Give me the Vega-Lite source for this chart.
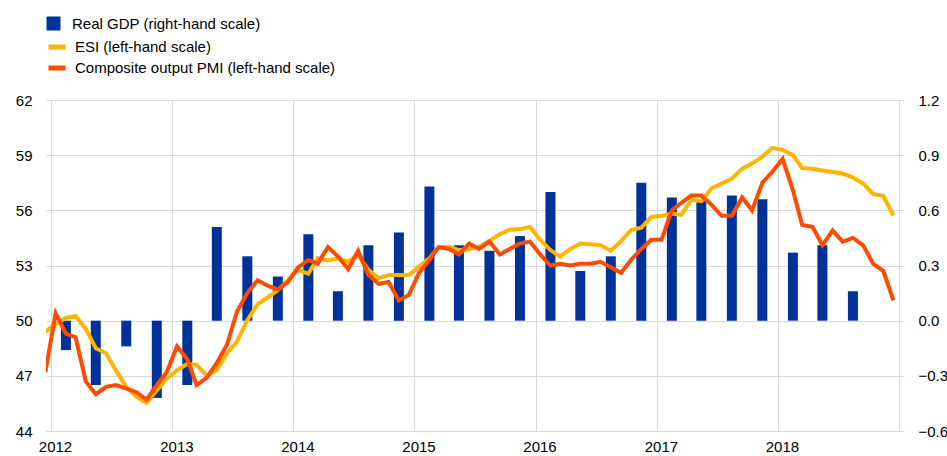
{
  "$schema": "https://vega.github.io/schema/vega-lite/v6.json",
  "width": 858,
  "height": 331,
  "autosize": {"type": "none"},
  "padding": {"left": 46, "top": 100, "right": 43, "bottom": 25},
  "background": "white",
  "config": {
    "font": "Arial, Liberation Sans, sans-serif",
    "view": {"stroke": null},
    "axis": {
      "labelFont": "Arial, Liberation Sans, sans-serif",
      "labelFontSize": 15,
      "labelColor": "#000000",
      "domain": false,
      "ticks": false,
      "gridColor": "#d9d9d9",
      "gridWidth": 1,
      "title": null
    },
    "legend": {
      "labelFont": "Arial, Liberation Sans, sans-serif",
      "labelFontSize": 15,
      "labelColor": "#000000",
      "padding": 0,
      "title": null,
      "labelLimit": 400
    }
  },
  "datasets": {
    "gdp": [
      {"date": "2012-02-15", "gdp": -0.16},
      {"date": "2012-05-15", "gdp": -0.35},
      {"date": "2012-08-15", "gdp": -0.14},
      {"date": "2012-11-15", "gdp": -0.42},
      {"date": "2013-02-15", "gdp": -0.35},
      {"date": "2013-05-15", "gdp": 0.51},
      {"date": "2013-08-15", "gdp": 0.35},
      {"date": "2013-11-15", "gdp": 0.24},
      {"date": "2014-02-15", "gdp": 0.47},
      {"date": "2014-05-15", "gdp": 0.16},
      {"date": "2014-08-15", "gdp": 0.41},
      {"date": "2014-11-15", "gdp": 0.48},
      {"date": "2015-02-15", "gdp": 0.73},
      {"date": "2015-05-15", "gdp": 0.41},
      {"date": "2015-08-15", "gdp": 0.38},
      {"date": "2015-11-15", "gdp": 0.46},
      {"date": "2016-02-15", "gdp": 0.70},
      {"date": "2016-05-15", "gdp": 0.27},
      {"date": "2016-08-15", "gdp": 0.35},
      {"date": "2016-11-15", "gdp": 0.75},
      {"date": "2017-02-15", "gdp": 0.67},
      {"date": "2017-05-15", "gdp": 0.65},
      {"date": "2017-08-15", "gdp": 0.68},
      {"date": "2017-11-15", "gdp": 0.66},
      {"date": "2018-02-15", "gdp": 0.37},
      {"date": "2018-05-15", "gdp": 0.41},
      {"date": "2018-08-15", "gdp": 0.16}
    ],
    "surveys": [
      {"date": "2011-12-15", "esi": 49.4, "pmi": 47.2},
      {"date": "2012-01-15", "esi": 49.8, "pmi": 50.4},
      {"date": "2012-02-15", "esi": 50.15, "pmi": 49.3},
      {"date": "2012-03-15", "esi": 50.26, "pmi": 49.1},
      {"date": "2012-04-15", "esi": 49.55, "pmi": 46.7},
      {"date": "2012-05-15", "esi": 48.5, "pmi": 46.0},
      {"date": "2012-06-15", "esi": 48.23, "pmi": 46.4},
      {"date": "2012-07-15", "esi": 47.28, "pmi": 46.5},
      {"date": "2012-08-15", "esi": 46.4, "pmi": 46.3},
      {"date": "2012-09-15", "esi": 45.85, "pmi": 46.1},
      {"date": "2012-10-15", "esi": 45.53, "pmi": 45.7},
      {"date": "2012-11-15", "esi": 46.2, "pmi": 46.5},
      {"date": "2012-12-15", "esi": 46.85, "pmi": 47.2},
      {"date": "2013-01-15", "esi": 47.3, "pmi": 48.6},
      {"date": "2013-02-15", "esi": 47.65, "pmi": 47.9},
      {"date": "2013-03-15", "esi": 47.6, "pmi": 46.5},
      {"date": "2013-04-15", "esi": 47.0, "pmi": 46.9},
      {"date": "2013-05-15", "esi": 47.32, "pmi": 47.7},
      {"date": "2013-06-15", "esi": 48.23, "pmi": 48.7},
      {"date": "2013-07-15", "esi": 48.87, "pmi": 50.5},
      {"date": "2013-08-15", "esi": 50.03, "pmi": 51.5},
      {"date": "2013-09-15", "esi": 50.9, "pmi": 52.2},
      {"date": "2013-10-15", "esi": 51.26, "pmi": 51.9},
      {"date": "2013-11-15", "esi": 51.65, "pmi": 51.7},
      {"date": "2013-12-15", "esi": 52.2, "pmi": 52.1},
      {"date": "2014-01-15", "esi": 52.76, "pmi": 52.9},
      {"date": "2014-02-15", "esi": 52.55, "pmi": 53.3},
      {"date": "2014-03-15", "esi": 53.39, "pmi": 53.1},
      {"date": "2014-04-15", "esi": 53.27, "pmi": 54.0},
      {"date": "2014-05-15", "esi": 53.39, "pmi": 53.5},
      {"date": "2014-06-15", "esi": 53.21, "pmi": 52.8},
      {"date": "2014-07-15", "esi": 53.57, "pmi": 53.8},
      {"date": "2014-08-15", "esi": 52.76, "pmi": 52.5},
      {"date": "2014-09-15", "esi": 52.3, "pmi": 52.0},
      {"date": "2014-10-15", "esi": 52.48, "pmi": 52.1},
      {"date": "2014-11-15", "esi": 52.48, "pmi": 51.1},
      {"date": "2014-12-15", "esi": 52.48, "pmi": 51.4},
      {"date": "2015-01-15", "esi": 52.94, "pmi": 52.6},
      {"date": "2015-02-15", "esi": 53.39, "pmi": 53.3},
      {"date": "2015-03-15", "esi": 53.99, "pmi": 54.0},
      {"date": "2015-04-15", "esi": 54.02, "pmi": 53.9},
      {"date": "2015-05-15", "esi": 53.84, "pmi": 53.6},
      {"date": "2015-06-15", "esi": 53.88, "pmi": 54.2},
      {"date": "2015-07-15", "esi": 54.02, "pmi": 53.9},
      {"date": "2015-08-15", "esi": 54.34, "pmi": 54.3},
      {"date": "2015-09-15", "esi": 54.7, "pmi": 53.6},
      {"date": "2015-10-15", "esi": 54.95, "pmi": 53.9},
      {"date": "2015-11-15", "esi": 54.98, "pmi": 54.2},
      {"date": "2015-12-15", "esi": 55.1, "pmi": 54.3},
      {"date": "2016-01-15", "esi": 54.39, "pmi": 53.6},
      {"date": "2016-02-15", "esi": 53.84, "pmi": 53.0},
      {"date": "2016-03-15", "esi": 53.48, "pmi": 53.1},
      {"date": "2016-04-15", "esi": 53.9, "pmi": 53.0},
      {"date": "2016-05-15", "esi": 54.19, "pmi": 53.1},
      {"date": "2016-06-15", "esi": 54.15, "pmi": 53.1},
      {"date": "2016-07-15", "esi": 54.11, "pmi": 53.2},
      {"date": "2016-08-15", "esi": 53.8, "pmi": 52.9},
      {"date": "2016-09-15", "esi": 54.33, "pmi": 52.6},
      {"date": "2016-10-15", "esi": 54.93, "pmi": 53.3},
      {"date": "2016-11-15", "esi": 55.05, "pmi": 53.9},
      {"date": "2016-12-15", "esi": 55.64, "pmi": 54.4},
      {"date": "2017-01-15", "esi": 55.7, "pmi": 54.4},
      {"date": "2017-02-15", "esi": 55.82, "pmi": 56.0},
      {"date": "2017-03-15", "esi": 55.75, "pmi": 56.4},
      {"date": "2017-04-15", "esi": 56.57, "pmi": 56.8},
      {"date": "2017-05-15", "esi": 56.5, "pmi": 56.8},
      {"date": "2017-06-15", "esi": 57.2, "pmi": 56.3},
      {"date": "2017-07-15", "esi": 57.45, "pmi": 55.7},
      {"date": "2017-08-15", "esi": 57.72, "pmi": 55.7},
      {"date": "2017-09-15", "esi": 58.27, "pmi": 56.7},
      {"date": "2017-10-15", "esi": 58.54, "pmi": 56.0},
      {"date": "2017-11-15", "esi": 58.92, "pmi": 57.5},
      {"date": "2017-12-15", "esi": 59.4, "pmi": 58.1},
      {"date": "2018-01-15", "esi": 59.28, "pmi": 58.8},
      {"date": "2018-02-15", "esi": 59.01, "pmi": 57.1},
      {"date": "2018-03-15", "esi": 58.3, "pmi": 55.2},
      {"date": "2018-04-15", "esi": 58.26, "pmi": 55.1},
      {"date": "2018-05-15", "esi": 58.17, "pmi": 54.1},
      {"date": "2018-06-15", "esi": 58.08, "pmi": 54.9},
      {"date": "2018-07-15", "esi": 58.0, "pmi": 54.3},
      {"date": "2018-08-15", "esi": 57.78, "pmi": 54.5},
      {"date": "2018-09-15", "esi": 57.45, "pmi": 54.1},
      {"date": "2018-10-15", "esi": 56.89, "pmi": 53.1},
      {"date": "2018-11-15", "esi": 56.78, "pmi": 52.7},
      {"date": "2018-12-15", "esi": 55.72, "pmi": 51.1}
    ]
  },
  "layer": [
    {
      "data": {"name": "gdp"},
      "mark": {"type": "bar", "width": 10},
      "encoding": {
        "x": {
          "field": "date", "type": "temporal",
          "scale": {"type": "utc", "domain": [{"year": 2012, "month": 1, "date": 1, "utc": true}, {"year": 2019, "month": 1, "date": 1, "utc": true}]},
          "axis": {
            "title": null, "grid": true, "labelOffset": 4, "labelPadding": 8, "labelAlign": "center",
            "values": [
              {"year": 2012, "month": 1, "date": 1, "utc": true},
              {"year": 2013, "month": 1, "date": 1, "utc": true},
              {"year": 2014, "month": 1, "date": 1, "utc": true},
              {"year": 2015, "month": 1, "date": 1, "utc": true},
              {"year": 2016, "month": 1, "date": 1, "utc": true},
              {"year": 2017, "month": 1, "date": 1, "utc": true},
              {"year": 2018, "month": 1, "date": 1, "utc": true},
              {"year": 2019, "month": 1, "date": 1, "utc": true}
            ],
            "labelExpr": "utcFormat(datum.value, '%Y') == '2019' ? '' : utcFormat(datum.value, '%Y')"
          }
        },
        "y": {
          "field": "gdp", "type": "quantitative",
          "scale": {"domain": [-0.6, 1.2], "nice": false, "zero": false},
          "axis": {"orient": "right", "title": null, "grid": false, "values": [-0.6, -0.3, 0, 0.3, 0.6, 0.9, 1.2], "format": ".1f", "labelPadding": 14}
        },
        "color": {
          "datum": "Real GDP (right-hand scale)",
          "scale": {"range": ["#003299"]},
          "legend": {"orient": "none", "legendX": 0, "legendY": -84, "symbolType": "square", "symbolSize": 196, "symbolStrokeWidth": 0, "labelOffset": 11}
        }
      }
    },
    {
      "data": {"name": "surveys"},
      "layer": [
        {
          "mark": {"type": "line", "strokeWidth": 4, "clip": true},
          "encoding": {
            "x": {"field": "date", "type": "temporal", "scale": {"type": "utc", "domain": [{"year": 2012, "month": 1, "date": 1, "utc": true}, {"year": 2019, "month": 1, "date": 1, "utc": true}]}, "axis": {"title": null}},
            "y": {
              "field": "esi", "type": "quantitative",
              "scale": {"domain": [44, 62], "nice": false, "zero": false},
              "axis": {"orient": "left", "title": null, "grid": true, "values": [44, 47, 50, 53, 56, 59, 62], "labelPadding": 14}
            },
            "color": {
              "datum": "ESI (left-hand scale)",
              "scale": {"range": ["#FFB400"]},
              "legend": {"orient": "none", "legendX": 0, "legendY": -64, "symbolType": "stroke", "symbolSize": 289, "symbolStrokeWidth": 5, "labelOffset": 7}
            }
          }
        },
        {
          "mark": {"type": "line", "strokeWidth": 4, "clip": true},
          "encoding": {
            "x": {"field": "date", "type": "temporal", "scale": {"type": "utc", "domain": [{"year": 2012, "month": 1, "date": 1, "utc": true}, {"year": 2019, "month": 1, "date": 1, "utc": true}]}, "axis": {"title": null}},
            "y": {
              "field": "pmi", "type": "quantitative",
              "scale": {"domain": [44, 62], "nice": false, "zero": false},
              "axis": {"orient": "left", "title": null, "grid": true, "values": [44, 47, 50, 53, 56, 59, 62], "labelPadding": 14}
            },
            "color": {
              "datum": "Composite output PMI (left-hand scale)",
              "scale": {"range": ["#FF4B00"]},
              "legend": {"orient": "none", "legendX": 0, "legendY": -43, "symbolType": "stroke", "symbolSize": 289, "symbolStrokeWidth": 5, "labelOffset": 7}
            }
          }
        }
      ],
      "resolve": {"scale": {"color": "independent"}}
    }
  ],
  "resolve": {"scale": {"y": "independent", "color": "independent"}}
}
